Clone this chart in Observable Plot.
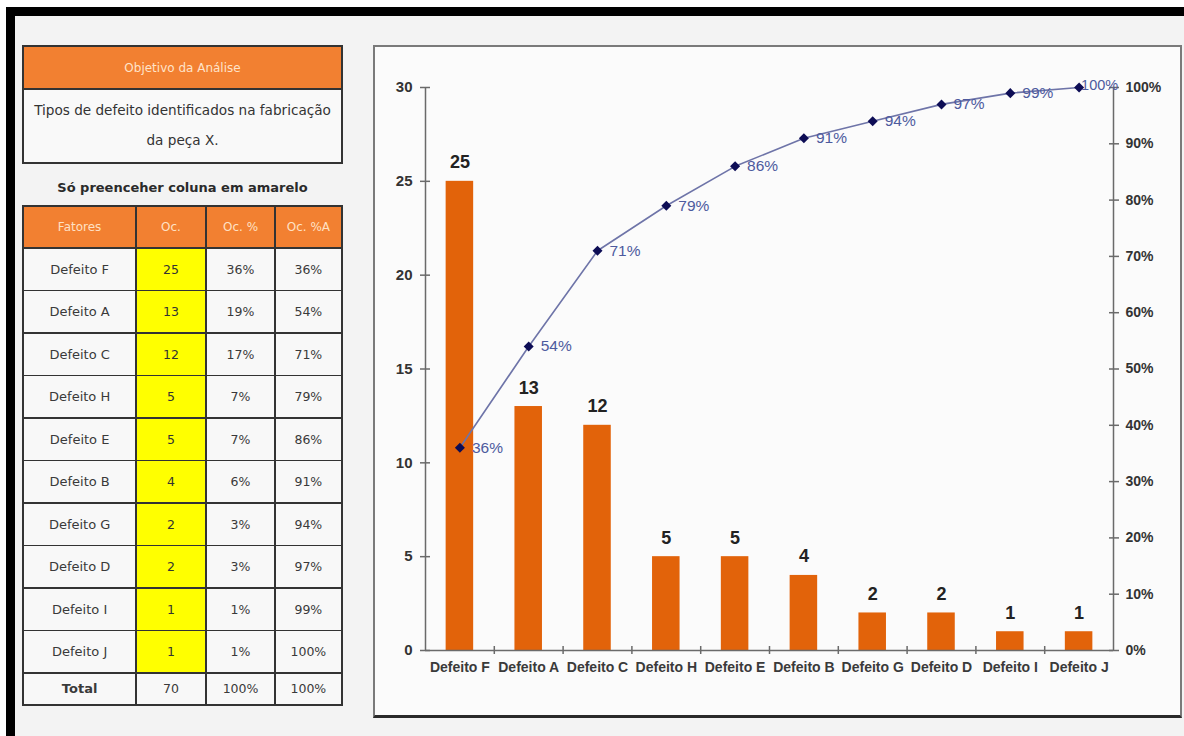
<!DOCTYPE html>
<html>
<head>
<meta charset="utf-8">
<script src="https://cdn.jsdelivr.net/npm/d3@7"></script>
<script src="https://cdn.jsdelivr.net/npm/@observablehq/plot@0.6"></script>
<style>
  html, body { margin: 0; padding: 0; }
  body { width: 1184px; height: 736px; position: relative; overflow: hidden; background: #fff; font-family: "DejaVu Sans", sans-serif; }
  #inner { position: absolute; left: 15px; top: 16px; width: 1169px; height: 720px; background: #f3f3f3; }
  #frameTop { position: absolute; left: 6px; top: 7px; width: 1178px; height: 9px; background: #000; }
  #frameLeft { position: absolute; left: 6px; top: 7px; width: 9px; height: 729px; background: #000; }
  #obj { position: absolute; left: 22px; top: 45px; width: 321px; height: 119px; box-sizing: border-box; border: 2px solid #333; background: #f9f9f9; }
  #obj .hd { height: 41px; background: #f28031; border-bottom: 2px solid #333; color: #ffe3c9; font-size: 12px; display: flex; align-items: center; justify-content: center; }
  #obj .bd { text-align: center; font-size: 13.6px; color: #333; line-height: 30px; padding-top: 5px; }
  #note { position: absolute; left: 22px; top: 180px; width: 321px; text-align: center; font-size: 13px; font-weight: bold; color: #2a2a2a; }
  #tbl { position: absolute; left: 22px; top: 205px; width: 321px; box-sizing: border-box; padding: 2px; background: #333;
         display: grid; grid-template-columns: 111.25px 68.5px 67.5px 65.25px; grid-template-rows: 40px repeat(10, 41px) 30.5px; gap: 1.5px; }
  #tbl div { display: flex; align-items: center; justify-content: center; background: #f8f8f8; color: #3a3a3a; font-size: 12.5px; }
  #tbl div.nm { font-size: 13px; }
  #tbl div.th { background: #f28031; color: #ffe0c4; font-size: 12px; }
  #tbl div.yel { background: #ffff00; color: #333; }
  #tbl div.tot { font-weight: bold; font-size: 13px; }
  #chart { position: absolute; left: 373px; top: 45px; width: 809px; height: 673px; box-sizing: border-box;
           border: 2px solid #7a7a7a; border-bottom: 3px solid #2a2a2a; background: #fbfbfb; }
  #chart svg { display: block; }
</style>
</head>
<body>
<div id="inner"></div>
<div id="frameTop"></div>
<div id="frameLeft"></div>
<div id="obj"><div class="hd">Objetivo da Análise</div><div class="bd">Tipos de defeito identificados na fabricação<br>da peça X.</div></div>
<div id="note">Só preenceher coluna em amarelo</div>
<div id="tbl"></div>
<div id="chart"></div>
<script>
// ---- data ----
const categories = ["Defeito F","Defeito A","Defeito C","Defeito H","Defeito E","Defeito B","Defeito G","Defeito D","Defeito I","Defeito J"];
const counts = [25, 13, 12, 5, 5, 4, 2, 2, 1, 1];
const pctLabels = ["36%","19%","17%","7%","7%","6%","3%","3%","1%","1%"];
const cumPct = [36, 54, 71, 79, 86, 91, 94, 97, 99, 100];
const tableHeaders = ["Fatores","Oc.","Oc. %","Oc. %A"];
const totalRow = ["Total", "70", "100%", "100%"];
const countTicks = [0, 5, 10, 15, 20, 25, 30];
const pctTicks = [0, 10, 20, 30, 40, 50, 60, 70, 80, 90, 100];
const yMax = 30;

// ---- table ----
const tbl = document.getElementById("tbl");
function cell(text, cls) { const d = document.createElement("div"); d.textContent = text; if (cls) d.className = cls; tbl.appendChild(d); }
tableHeaders.forEach(h => cell(h, "th"));
categories.forEach((c, i) => { cell(c, "nm"); cell(String(counts[i]), "yel"); cell(pctLabels[i]); cell(cumPct[i] + "%"); });
totalRow.forEach((t, k) => cell(t, k === 0 ? "tot" : null));

// ---- chart ----
const data = categories.map((c, i) => ({i, cat: c, count: counts[i], cum: cumPct[i]}));
const last = data.length - 1;
const xDomain = [-0.5, categories.length - 0.5];
const boundaries = d3.range(0.5, categories.length - 1, 1);
const barHalf = 0.2;
const axisColor = "#6a6a6a";
const barColor = "#e2630a";
const cumY = d => d.cum * yMax / 100;

const chart = Plot.plot({
  width: 805, height: 668,
  marginLeft: 50, marginRight: 67, marginTop: 40, marginBottom: 65,
  style: {background: "transparent", fontFamily: "'Liberation Sans', Arial, sans-serif", fontSize: "14px", color: "#333"},
  x: {type: "linear", domain: xDomain, axis: null},
  y: {domain: [0, yMax], axis: null},
  marks: [
    Plot.rect(data, {x1: d => d.i - barHalf, x2: d => d.i + barHalf, y1: 0, y2: "count", fill: barColor}),
    Plot.ruleY([0], {stroke: axisColor, strokeWidth: 1.5}),
    Plot.ruleX(xDomain, {y1: 0, y2: yMax, stroke: axisColor, strokeWidth: 1.5}),
    // left axis
    Plot.axisY({anchor: "left", ticks: countTicks, tickSize: 10, dx: 5, fill: "none", stroke: axisColor, strokeWidth: 1.5, label: null}),
    Plot.axisY({anchor: "left", ticks: countTicks, tickSize: 0, tickPadding: 13, stroke: "none", fill: "#333", fontWeight: "bold", fontSize: 15, label: null}),
    // right axis
    Plot.axisY({anchor: "right", ticks: pctTicks.map(p => p * yMax / 100), tickSize: 10, dx: -5, fill: "none", stroke: axisColor, strokeWidth: 1.5, label: null}),
    Plot.axisY({anchor: "right", ticks: pctTicks.map(p => p * yMax / 100), tickFormat: d => Math.round(d * 100 / yMax) + "%", tickSize: 0, tickPadding: 12, stroke: "none", fill: "#333", fontWeight: "bold", fontSize: 14, label: null}),
    // x axis
    Plot.axisX({anchor: "bottom", ticks: boundaries, tickSize: 8, dy: -4, fill: "none", stroke: axisColor, strokeWidth: 1.5, label: null}),
    Plot.axisX({anchor: "bottom", ticks: data.map(d => d.i), tickFormat: i => categories[i], tickSize: 0, tickPadding: 12, stroke: "none", fill: "#3a3a3a", fontWeight: "bold", fontSize: 14, label: null}),
    // bar labels
    Plot.text(data, {x: "i", y: "count", text: d => String(d.count), lineAnchor: "bottom", dy: -13, fontWeight: "bold", fontSize: 18, fill: "#222"}),
    // cumulative line
    Plot.line(data, {x: "i", y: cumY, stroke: "#6e74a8", strokeWidth: 1.6}),
    Plot.dot(data, {x: "i", y: cumY, symbol: "square", rotate: 45, r: 4, fill: "#0d0d55"}),
    Plot.text(data.slice(0, last), {x: "i", y: cumY, text: d => d.cum + "%", textAnchor: "start", dx: 12, fontSize: 15.5, fill: "#4d5a9e"}),
    Plot.text(data.slice(last), {x: "i", y: cumY, text: d => d.cum + "%", textAnchor: "start", dx: 2, dy: -2, fontSize: 14.5, fill: "#4d5a9e"})
  ]
});
document.getElementById("chart").appendChild(chart);
</script>
</body>
</html>
